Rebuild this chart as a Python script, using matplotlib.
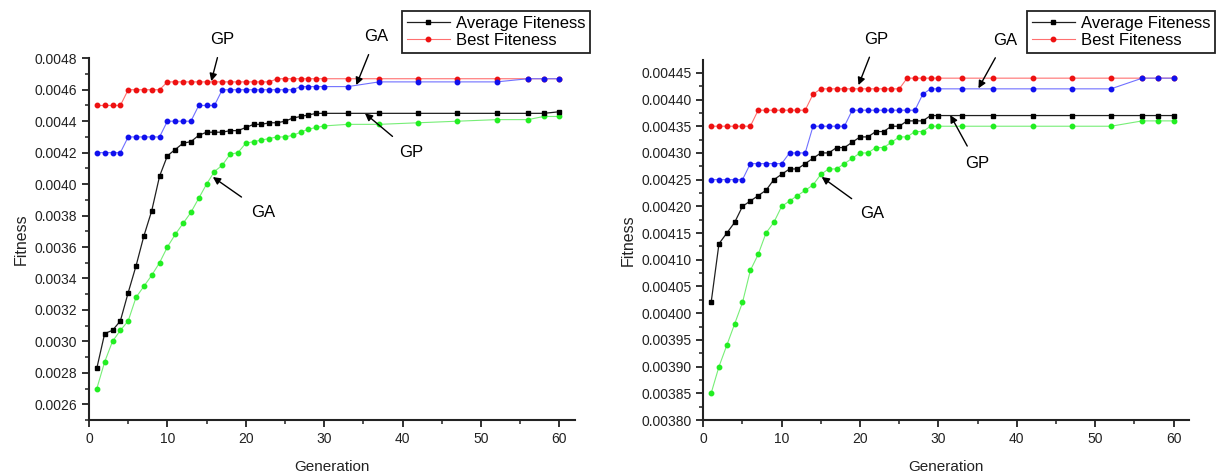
import matplotlib
matplotlib.use("Agg")
import matplotlib.pyplot as plt
from matplotlib.ticker import MultipleLocator, FormatStrFormatter
from matplotlib.lines import Line2D

plt.rcParams['font.family'] = ['Liberation Sans', 'DejaVu Sans']

# ---------------- data ----------------
generations = [1, 2, 3, 4, 5, 6, 7, 8, 9, 10, 11, 12, 13, 14, 15, 16, 17, 18, 19, 20,
               21, 22, 23, 24, 25, 26, 27, 28, 29, 30, 33, 37, 42, 47, 52, 56, 58, 60]

# left panel
left_gp_best = [0.0045, 0.0045, 0.0045, 0.0045,
                0.0046, 0.0046, 0.0046, 0.0046, 0.0046,
                0.00465, 0.00465, 0.00465, 0.00465, 0.00465, 0.00465, 0.00465,
                0.00465, 0.00465, 0.00465, 0.00465, 0.00465, 0.00465, 0.00465,
                0.00467, 0.00467, 0.00467, 0.00467, 0.00467, 0.00467, 0.00467,
                0.00467, 0.00467, 0.00467, 0.00467, 0.00467, 0.00467, 0.00467, 0.00467]
left_ga_best = [0.0042, 0.0042, 0.0042, 0.0042,
                0.0043, 0.0043, 0.0043, 0.0043, 0.0043,
                0.0044, 0.0044, 0.0044, 0.0044,
                0.0045, 0.0045, 0.0045,
                0.0046, 0.0046, 0.0046, 0.0046, 0.0046, 0.0046, 0.0046, 0.0046, 0.0046, 0.0046,
                0.00462, 0.00462, 0.00462, 0.00462,
                0.00462, 0.00465, 0.00465, 0.00465, 0.00465, 0.00467, 0.00467, 0.00467]
left_gp_avg = [0.00283, 0.00305, 0.00307, 0.00313, 0.00331, 0.00348, 0.00367, 0.00383,
               0.00405, 0.00418, 0.00422, 0.00426, 0.00427, 0.00431, 0.00433, 0.00433,
               0.00433, 0.00434, 0.00434, 0.00436, 0.00438, 0.00438, 0.00439, 0.00439,
               0.00440, 0.00442, 0.00443, 0.00444, 0.00445, 0.00445,
               0.00445, 0.00445, 0.00445, 0.00445, 0.00445, 0.00445, 0.00445, 0.00446]
left_ga_avg = [0.00270, 0.00287, 0.00300, 0.00307, 0.00313, 0.00328, 0.00335, 0.00342,
               0.00350, 0.00360, 0.00368, 0.00375, 0.00382, 0.00391, 0.00400, 0.00408,
               0.00412, 0.00419, 0.00420, 0.00426, 0.00427, 0.00428, 0.00429, 0.00430,
               0.00430, 0.00431, 0.00433, 0.00435, 0.00436, 0.00437,
               0.00438, 0.00438, 0.00439, 0.00440, 0.00441, 0.00441, 0.00443, 0.00443]

# right panel
right_gp_best = [0.00435, 0.00435, 0.00435, 0.00435, 0.00435, 0.00435,
                 0.00438, 0.00438, 0.00438, 0.00438, 0.00438, 0.00438, 0.00438,
                 0.00441,
                 0.00442, 0.00442, 0.00442, 0.00442, 0.00442, 0.00442, 0.00442, 0.00442,
                 0.00442, 0.00442, 0.00442,
                 0.00444, 0.00444, 0.00444, 0.00444, 0.00444,
                 0.00444, 0.00444, 0.00444, 0.00444, 0.00444, 0.00444, 0.00444, 0.00444]
right_ga_best = [0.00425, 0.00425, 0.00425, 0.00425, 0.00425,
                 0.00428, 0.00428, 0.00428, 0.00428, 0.00428,
                 0.00430, 0.00430, 0.00430,
                 0.00435, 0.00435, 0.00435, 0.00435, 0.00435,
                 0.00438, 0.00438, 0.00438, 0.00438, 0.00438, 0.00438, 0.00438, 0.00438, 0.00438,
                 0.00441, 0.00442, 0.00442,
                 0.00442, 0.00442, 0.00442, 0.00442, 0.00442, 0.00444, 0.00444, 0.00444]
right_gp_avg = [0.00402, 0.00413, 0.00415, 0.00417, 0.00420, 0.00421, 0.00422, 0.00423,
                0.00425, 0.00426, 0.00427, 0.00427, 0.00428, 0.00429, 0.00430, 0.00430,
                0.00431, 0.00431, 0.00432, 0.00433, 0.00433, 0.00434, 0.00434, 0.00435,
                0.00435, 0.00436, 0.00436, 0.00436, 0.00437, 0.00437,
                0.00437, 0.00437, 0.00437, 0.00437, 0.00437, 0.00437, 0.00437, 0.00437]
right_ga_avg = [0.00385, 0.00390, 0.00394, 0.00398, 0.00402, 0.00408, 0.00411, 0.00415,
                0.00417, 0.00420, 0.00421, 0.00422, 0.00423, 0.00424, 0.00426, 0.00427,
                0.00427, 0.00428, 0.00429, 0.00430, 0.00430, 0.00431, 0.00431, 0.00432,
                0.00433, 0.00433, 0.00434, 0.00434, 0.00435, 0.00435,
                0.00435, 0.00435, 0.00435, 0.00435, 0.00435, 0.00436, 0.00436, 0.00436]

legend_labels = ["Average Fiteness", "Best Fiteness"]
x_label = "Generation"
y_label = "Fitness"

# ---------------- styles ----------------
RED, RED_L = "#ee1111", "#ff7070"
BLUE, BLUE_L = "#1010ee", "#7070ff"
GREEN, GREEN_L = "#22ee22", "#77ee77"
BLACK, BLACK_L = "#000000", "#202020"
MS_C, MS_S = 3.2, 3.1

fig = plt.figure(figsize=(12.2, 4.74), dpi=100)
ax1 = fig.add_axes([89 / 1220, 1 - 420 / 474, (575 - 89) / 1220, (420 - 58.3) / 474])
ax2 = fig.add_axes([703.3 / 1220, 1 - 420 / 474, (1189.3 - 703.3) / 1220, (420 - 60) / 474])


def draw(ax, best_gp, best_ga, avg_gp, avg_ga):
    ax.plot(generations, avg_ga, color=GREEN_L, lw=0.8, marker='o', ms=MS_C,
            mfc=GREEN, mec=GREEN, zorder=3)
    ax.plot(generations, avg_gp, color=BLACK_L, lw=0.9, marker='s', ms=MS_S,
            mfc=BLACK, mec=BLACK, zorder=4)
    ax.plot(generations, best_ga, color=BLUE_L, lw=0.8, marker='o', ms=MS_C,
            mfc=BLUE, mec=BLUE, zorder=3)
    ax.plot(generations, best_gp, color=RED_L, lw=0.8, marker='o', ms=MS_C,
            mfc=RED, mec=RED, zorder=2)
    for s in ("top", "right"):
        ax.spines[s].set_visible(False)
    for s in ("left", "bottom"):
        ax.spines[s].set_linewidth(1.5)
        ax.spines[s].set_color("#222222")
    ax.set_xlim(0, 62)
    ax.xaxis.set_major_locator(MultipleLocator(10))
    ax.xaxis.set_minor_locator(MultipleLocator(5))
    ax.tick_params(which='major', direction='out', length=5, width=1.3,
                   labelsize=10, colors="#222222")
    ax.tick_params(which='minor', direction='out', length=3, width=1.1, colors="#222222")
    ax.set_xlabel(x_label, fontsize=11, color="#222222", labelpad=10)
    ax.set_ylabel(y_label, fontsize=11.5, color="#222222")


draw(ax1, left_gp_best, left_ga_best, left_gp_avg, left_ga_avg)
ax1.set_ylim(0.0025, 0.0048)
ax1.yaxis.set_major_locator(MultipleLocator(0.0002))
ax1.yaxis.set_minor_locator(MultipleLocator(0.0001))
ax1.yaxis.set_major_formatter(FormatStrFormatter('%.4f'))

draw(ax2, right_gp_best, right_ga_best, right_gp_avg, right_ga_avg)
ax2.set_ylim(0.0038, 0.004474)
ax2.yaxis.set_major_locator(MultipleLocator(0.00005))
ax2.yaxis.set_minor_locator(MultipleLocator(0.000025))
ax2.yaxis.set_major_formatter(FormatStrFormatter('%.5f'))

arrow = dict(arrowstyle='-|>', color='black', lw=1.0, mutation_scale=11, shrinkA=6, shrinkB=0)
akw = dict(fontsize=12, ha='center', va='center', annotation_clip=False, arrowprops=arrow)

ax1.annotate("GP", xy=(15.6, 0.004655), xytext=(17.0, 0.004921), **akw)
ax1.annotate("GA", xy=(34.1, 0.00463), xytext=(36.6, 0.004938), **akw)
ax1.annotate("GP", xy=(35.2, 0.00445), xytext=(41.1, 0.004204), **akw)
ax1.annotate("GA", xy=(15.8, 0.004045), xytext=(22.2, 0.003822), **akw)

ax2.annotate("GP", xy=(19.8, 0.004427), xytext=(22.1, 0.004513), **akw)
ax2.annotate("GA", xy=(35.1, 0.004421), xytext=(38.5, 0.004511), **akw)
ax2.annotate("GP", xy=(31.5, 0.004371), xytext=(34.9, 0.00428), **akw)
ax2.annotate("GA", xy=(15.1, 0.004255), xytext=(21.6, 0.004186), **akw)

handles = [Line2D([], [], color=BLACK_L, lw=0.9, marker='s', ms=MS_S, mfc=BLACK, mec=BLACK),
           Line2D([], [], color=RED_L, lw=0.8, marker='o', ms=MS_C, mfc=RED, mec=RED)]
for x0 in (401.7 / 1220, 1026.7 / 1220):
    leg = fig.legend(handles, legend_labels, loc='upper left', bbox_to_anchor=(x0, 1 - 10.7 / 474),
                     fontsize=12, frameon=True, fancybox=False, framealpha=1,
                     edgecolor='#222222', borderaxespad=0, handlelength=2.6,
                     handletextpad=0.35, borderpad=0.3, labelspacing=0.12)
    leg.get_frame().set_linewidth(1.3)

fig.savefig("out.png", dpi=100)
